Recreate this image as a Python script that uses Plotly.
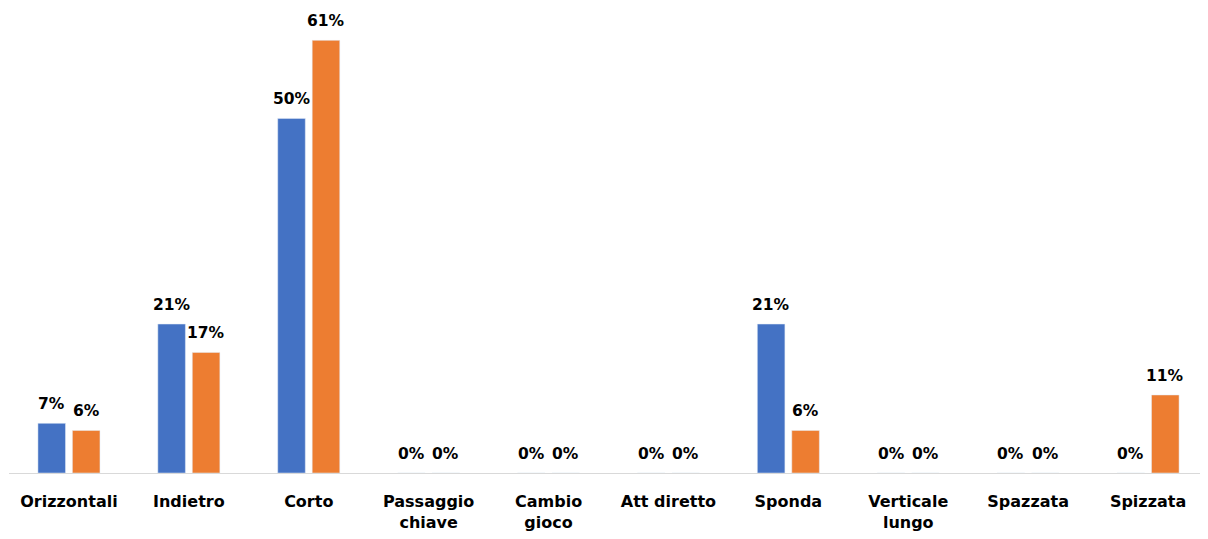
import plotly.graph_objects as go

categories = ["Orizzontali", "Indietro", "Corto", "Passaggio<br>chiave", "Cambio<br>gioco",
              "Att diretto", "Sponda", "Verticale<br>lungo", "Spazzata", "Spizzata"]
serie_blu = [7, 21, 50, 0, 0, 0, 21, 0, 0, 0]
serie_arancio = [6, 17, 61, 0, 0, 0, 6, 0, 0, 11]

BLUE = "#4472C4"
ORANGE = "#ED7D31"
FONT = "DejaVu Sans"

fig = go.Figure()
fig.add_trace(go.Bar(x=categories, y=serie_blu, marker_color=BLUE, name="A", showlegend=False))
fig.add_trace(go.Bar(x=categories, y=serie_arancio, marker_color=ORANGE, name="B", showlegend=False))

# page body has an 8px margin, so the figure is sized to fit inside the window
W, H = 1200, 531
ml, mr, mt, mb = 1, 0, 4, 66
bargap, bargroupgap = 0.425, 0.2
cat_w = (W - ml - mr) / len(categories)
slot = cat_w * (1 - bargap) / 2

annotations = []
for vals, shift in ((serie_blu, -slot / 2), (serie_arancio, slot / 2)):
    for c, v in zip(categories, vals):
        annotations.append(dict(
            x=c, y=v, xref="x", yref="y", text=f"<b>{v}%</b>", showarrow=False,
            xanchor="center", yanchor="bottom", xshift=shift, yshift=8,
            font=dict(family=FONT, size=15.5, color="#000000")))

fig.update_layout(
    width=W, height=H,
    margin=dict(l=ml, r=mr, t=mt, b=mb, autoexpand=False),
    barmode="group", bargap=bargap, bargroupgap=bargroupgap,
    plot_bgcolor="white", paper_bgcolor="white",
    annotations=annotations,
    xaxis=dict(
        type="category", showline=True, linecolor="#D9D9D9", linewidth=1,
        showgrid=False, ticks="", ticklabelstandoff=14, automargin=False,
        tickfont=dict(family=FONT, size=16, color="#000000", weight="bold"),
    ),
    yaxis=dict(range=[0, 65], visible=False, showgrid=False, zeroline=False, automargin=False),
)

fig.write_html("out.html")
